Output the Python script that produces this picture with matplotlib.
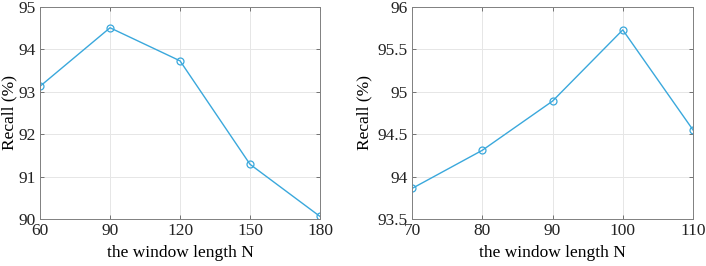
import matplotlib.pyplot as plt

# left panel data
n_left = [60, 90, 120, 150, 180]
recall_left = [93.13, 94.51, 93.73, 91.29, 90.06]

# right panel data
n_right = [70, 80, 90, 100, 110]
recall_right = [93.86, 94.31, 94.89, 95.73, 94.55]

plt.rcParams['font.family'] = ['Liberation Serif', 'DejaVu Serif']
plt.rcParams['font.size'] = 12.5

color = '#3aa8dc'

fig = plt.figure(figsize=(7.06, 2.66), dpi=100)
ax1 = fig.add_axes([0.0567, 0.1767, 0.3966, 0.797])
ax2 = fig.add_axes([0.5836, 0.1767, 0.398, 0.797])


def style(ax, xs, ys, xlim, ylim, yticks, ylab_x):
    ax.plot(xs, ys, color=color, lw=1.0, marker='o', ms=5, mfc='none', mew=0.9)
    ax.set_xlim(*xlim)
    ax.set_ylim(*ylim)
    ax.set_xticks(xs)
    ax.set_yticks(yticks)
    ax.set_yticklabels([('%g' % v) for v in yticks])
    ax.grid(True, color='#e6e6e6', lw=0.7)
    ax.set_axisbelow(True)
    for s in ax.spines.values():
        s.set_color('#808080')
        s.set_linewidth(0.7)
    ax.tick_params(direction='in', length=3, width=0.6, color='#606060',
                   top=True, right=True, pad=3, labelcolor='#222222')
    ax.set_xlabel('the window length N')
    ax.set_ylabel('Recall (%)')
    ax.xaxis.set_label_coords(0.5, -0.125)
    ax.yaxis.set_label_coords(ylab_x, 0.5)


style(ax1, n_left, recall_left, (60, 180), (90, 95), [90, 91, 92, 93, 94, 95], -0.08)
style(ax2, n_right, recall_right, (70, 110), (93.5, 96), [93.5, 94, 94.5, 95, 95.5, 96], -0.142)

fig.savefig('out.png', dpi=100)
